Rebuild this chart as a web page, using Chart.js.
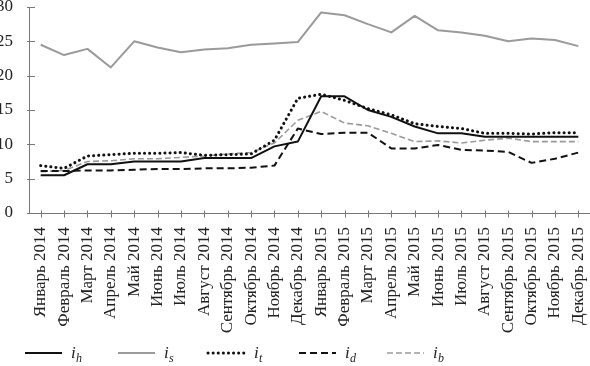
<!DOCTYPE html>
<html><head><meta charset="utf-8">
<script src="https://cdn.jsdelivr.net/npm/chart.js@4/dist/chart.umd.min.js"></script>
<style>html,body{margin:0;padding:0;background:#fff}#wrap{width:590px;height:366px;position:relative}</style>
</head><body><div id="wrap"><canvas id="c" width="590" height="366"></canvas></div>
<script>
const categories = ['Январь 2014','Февраль 2014','Март 2014','Апрель 2014','Май 2014','Июнь 2014','Июль 2014','Август 2014','Сентябрь 2014','Октябрь 2014','Ноябрь 2014','Декабрь 2014',
'Январь 2015','Февраль 2015','Март 2015','Апрель 2015','Май 2015','Июнь 2015','Июль 2015','Август 2015','Сентябрь 2015','Октябрь 2015','Ноябрь 2015','Декабрь 2015'];
const seriesIh = [5.5,5.5,7.1,7.1,7.5,7.5,7.5,8.0,8.0,8.0,9.7,10.4, 17.0,17.0,15.0,14.0,12.6,11.6,11.6,11.1,11.1,11.1,11.1,11.1];
const seriesIs = [24.5,23.0,23.9,21.2,25.0,24.1,23.4,23.8,24.0,24.5,24.7,24.9, 29.2,28.8,27.5,26.3,28.7,26.6,26.3,25.8,25.0,25.4,25.2,24.3];
const seriesIt = [6.9,6.5,8.3,8.5,8.7,8.7,8.8,8.4,8.5,8.6,10.6,16.7, 17.3,16.4,15.2,14.3,13.0,12.6,12.3,11.6,11.6,11.5,11.7,11.7];
const seriesId = [6.1,6.1,6.2,6.2,6.3,6.4,6.4,6.5,6.5,6.6,6.9,12.3, 11.5,11.7,11.7,9.4,9.4,9.9,9.2,9.1,8.9,7.3,7.9,8.8];
const seriesIb = [6.0,6.2,7.5,7.6,7.9,7.9,8.1,8.3,8.6,8.8,10.2,13.5, 14.8,13.1,12.7,11.6,10.4,10.5,10.2,10.6,10.9,10.4,10.4,10.4];
const yTicks = [0,5,10,15,20,25,30];
const legendSubs = ['h','s','t','d','b'];

const FONT = 'Liberation Serif';
const black = '#111', gray = '#9a9a9a', axisColor = '#777';

const datasets = [
  {label:'i_h', data:seriesIh, borderColor:black, borderWidth:2, borderDash:[]},
  {label:'i_s', data:seriesIs, borderColor:gray, borderWidth:2, borderDash:[]},
  {label:'i_t', data:seriesIt, borderColor:black, borderWidth:3, borderDash:[0.1,5], borderCapStyle:'round'},
  {label:'i_d', data:seriesId, borderColor:black, borderWidth:2, borderDash:[7,4]},
  {label:'i_b', data:seriesIb, borderColor:gray, borderWidth:1.6, borderDash:[6,3]}
].map(d=>Object.assign({pointRadius:0, tension:0, fill:false, borderJoinStyle:'round'}, d));

const tickMarks = {
  id:'tickMarks',
  afterDraw(chart){
    const ctx = chart.ctx, xs = chart.scales.x, ys = chart.scales.y;
    ctx.save();
    ctx.strokeStyle = axisColor; ctx.lineWidth = 1;
    ctx.beginPath();
    const yb = Math.round(ys.bottom) + 0.5;
    xs.ticks.forEach((t,i)=>{
      const px = Math.round(xs.getPixelForTick(i)) + 0.5;
      ctx.moveTo(px, yb - 3); ctx.lineTo(px, yb + 4);
    });
    const xl = Math.round(xs.left);
    yTicks.forEach(v=>{
      const py = Math.round(ys.getPixelForValue(v)) + 0.5;
      ctx.moveTo(xl - 2, py); ctx.lineTo(xl + 6, py);
    });
    ctx.stroke();
    ctx.restore();
  }
};

const legendPlugin = {
  id:'customLegend',
  afterDraw(chart){
    const ctx = chart.ctx;
    const starts = [25,118,208,299,387];
    const y = 353;
    chart.data.datasets.forEach((ds,i)=>{
      const x0 = starts[i];
      ctx.save();
      ctx.strokeStyle = ds.borderColor;
      ctx.lineWidth = ds.borderWidth;
      ctx.lineCap = ds.borderCapStyle || 'butt';
      ctx.setLineDash(ds.borderDash || []);
      ctx.beginPath(); ctx.moveTo(x0,y); ctx.lineTo(x0+37,y); ctx.stroke();
      ctx.setLineDash([]);
      ctx.fillStyle = '#222';
      ctx.textBaseline = 'alphabetic';
      ctx.font = 'italic 17px "'+FONT+'"';
      ctx.fillText('i', x0+46, y+5);
      ctx.font = 'italic 12px "'+FONT+'"';
      ctx.fillText(legendSubs[i], x0+51, y+9);
      ctx.restore();
    });
  }
};

new Chart(document.getElementById('c'), {
  type:'line',
  data:{labels:categories, datasets},
  options:{
    responsive:false, animation:false, maintainAspectRatio:false,
    layout:{padding:{top:7,right:0,left:0,bottom:0}},
    plugins:{legend:{display:false}, tooltip:{enabled:false}},
    scales:{
      x:{
        offset:true,
        grid:{display:false},
        border:{color:axisColor, width:1},
        ticks:{maxRotation:90, minRotation:90, autoSkip:false, color:'#222', padding:6, font:{family:FONT, size:17}},
        afterFit(s){ s.height = 153; s.paddingLeft = 0; s.paddingRight = 0; }
      },
      y:{
        min:0, max:30,
        afterBuildTicks(s){ s.ticks = yTicks.map(v=>({value:v})); },
        grid:{display:false},
        border:{color:axisColor, width:1},
        ticks:{color:'#222', padding:8, font:{family:FONT, size:17}},
        afterFit(s){ s.width = 29; s.paddingTop = 0; s.paddingBottom = 0; }
      }
    }
  },
  plugins:[tickMarks, legendPlugin]
});
</script></body></html>
